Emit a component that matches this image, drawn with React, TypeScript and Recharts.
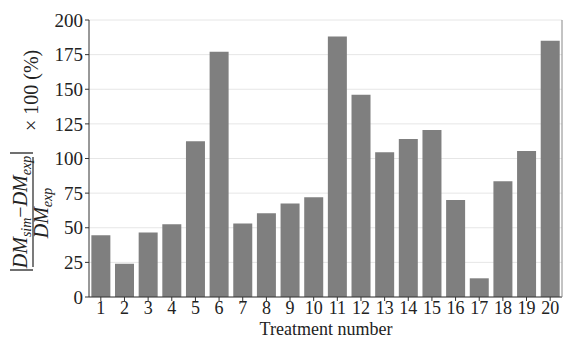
import { Bar, BarChart, CartesianGrid, XAxis, YAxis } from "recharts";

const treatments = ["1", "2", "3", "4", "5", "6", "7", "8", "9", "10", "11", "12", "13", "14", "15", "16", "17", "18", "19", "20"];
const deviation = [44.5, 24, 46.5, 52.5, 112.5, 177, 53, 60.5, 67.5, 72, 188, 146, 104.5, 114, 120.5, 70, 13.5, 83.5, 105.5, 185];
const yTicks = [0, 25, 50, 75, 100, 125, 150, 175, 200];

const data = treatments.map((t, i) => ({ treatment: t, value: deviation[i] }));

const serif = "'Liberation Serif', 'DejaVu Serif', serif";

// axis titles drawn on top of the chart; the y one is a rotated fraction
function Titles() {
    return (
        <svg width={564} height={338} style={{ position: "absolute", left: 0, top: 0, pointerEvents: "none" }}>
            <text x={326} y={335} textAnchor="middle" fontFamily={serif} fontSize={18} fill="#222">
                Treatment number
            </text>
            <g transform="rotate(-90)" fontFamily={serif} fill="#222">
                <line x1={-270} y1={10} x2={-270} y2={33} stroke="#222" strokeWidth={1.3} />
                <line x1={-153} y1={10} x2={-153} y2={33} stroke="#222" strokeWidth={1.3} />
                <text x={-212} y={27} fontSize={20} textAnchor="middle" fontStyle="italic">
                    DM<tspan fontSize={14} dy={4}>sim</tspan>
                    <tspan dy={-4} fontStyle="normal">−</tspan>DM<tspan fontSize={14} dy={4}>exp</tspan>
                </text>
                <line x1={-267} y1={33} x2={-157} y2={33} stroke="#222" strokeWidth={1.2} />
                <text x={-213} y={48} fontSize={20} textAnchor="middle" fontStyle="italic">
                    DM<tspan fontSize={14} dy={4}>exp</tspan>
                </text>
                <text x={-131} y={38} fontSize={20}>
                    × 100 (%)
                </text>
            </g>
        </svg>
    );
}

export default function App() {
    return (
        <div style={{ position: "absolute", left: 0, top: 0, width: 564, height: 338, background: "#fff" }}>
            <BarChart
                width={564}
                height={338}
                data={data}
                margin={{ top: 20, right: 1, bottom: 0, left: 0 }}
                barCategoryGap="10%"
            >
                <CartesianGrid horizontal vertical={false} stroke="#e6e6e6" />
                <XAxis
                    dataKey="treatment"
                    height={41}
                    interval={0}
                    tickSize={4}
                    tickMargin={0}
                    stroke="#333"
                    tick={{ fontFamily: serif, fontSize: 18, fill: "#222" }}
                />
                <XAxis xAxisId="top" orientation="top" dataKey="treatment" height={0} tick={false} tickLine={false} stroke="#888" />
                <YAxis
                    width={89}
                    domain={[0, 200]}
                    ticks={yTicks}
                    tickSize={4}
                    tickMargin={2}
                    stroke="#333"
                    tick={{ fontFamily: serif, fontSize: 19, fill: "#222" }}
                />
                <YAxis yAxisId="right" orientation="right" width={1} domain={[0, 200]} tick={false} tickLine={false} stroke="#888" />
                <Bar dataKey="value" fill="#7f7f7f" isAnimationActive={false} />
            </BarChart>
            <Titles />
        </div>
    );
}
